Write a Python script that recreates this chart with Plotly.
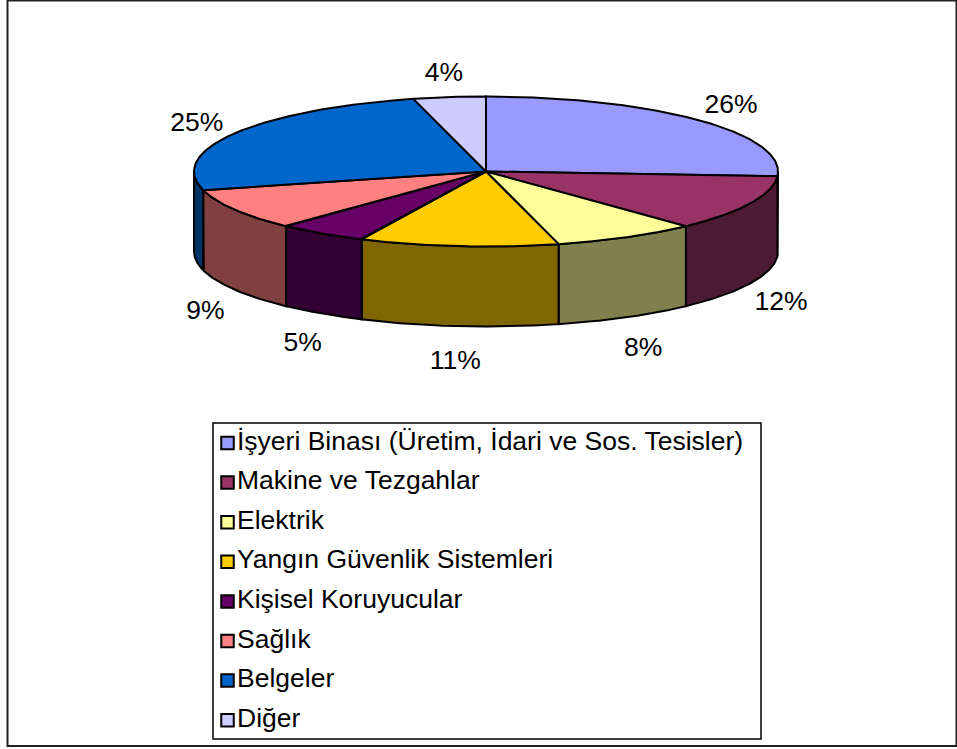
import numpy as np
import plotly.graph_objects as go

# slice data, clockwise from 12 o'clock
categories = [
    "İşyeri Binası (Üretim, İdari ve Sos. Tesisler)",
    "Makine ve Tezgahlar",
    "Elektrik",
    "Yangın Güvenlik Sistemleri",
    "Kişisel Koruyucular",
    "Sağlık",
    "Belgeler",
    "Diğer",
]
shares = [26, 12, 8, 11, 5, 9, 25, 4]

top_colors = ["#9999FF", "#993366", "#FFFF99", "#FFCC00", "#660066", "#FF8080", "#0066CC", "#CCCCFF"]
side_colors = ["#4D4D80", "#4D1A33", "#80804D", "#806600", "#330033", "#804040", "#003366", "#666680"]

W, H = 957, 749
FONT = "Liberation Sans, Arial, sans-serif"

# geometry of the tilted pie (pixels, y pointing down)
cx, cy = 486, 171.5
rx, ry = 292, 75
depth = 80


def ellipse(th_deg, ax=rx, ay=ry):
    t = np.radians(th_deg)
    return cx + ax * np.cos(t), cy - ay * np.sin(t)


fig = go.Figure()

cum = np.concatenate([[0], np.cumsum(shares)]) / sum(shares)
starts = 90 - 360 * cum[:-1]
ends = 90 - 360 * cum[1:]

# outer walls (only the front half is visible)
for i in range(len(shares)):
    a = min(starts[i], 0)
    b = max(ends[i], -180)
    if a <= b:
        continue
    th = np.linspace(a, b, 80)
    x, y = ellipse(th)
    xs = np.concatenate([x, x[::-1], x[:1]])
    ys = np.concatenate([y, y[::-1] + depth, y[:1]])
    fig.add_trace(go.Scatter(x=xs, y=ys, mode="lines", fill="toself",
                             fillcolor=side_colors[i],
                             line=dict(color="black", width=2),
                             hoverinfo="skip", showlegend=False))

# top faces
for i in range(len(shares)):
    th = np.linspace(starts[i], ends[i], 150)
    x, y = ellipse(th)
    xs = np.concatenate([[cx], x, [cx]])
    ys = np.concatenate([[cy], y, [cy]])
    fig.add_trace(go.Scatter(x=xs, y=ys, mode="lines", fill="toself",
                             fillcolor=top_colors[i],
                             line=dict(color="black", width=2),
                             hoverinfo="skip", showlegend=False))

# percentage labels outside the pie (front ones sit below the wall)
mids = (starts + ends) / 2
front = np.sin(np.radians(mids)) < 0
t = np.radians(mids)
lx = cx + np.where(front, rx + 34, rx + 44) * np.cos(t)
ly = cy - (ry + 28) * np.sin(t) + 5 + np.where(front, depth + 3, 0)
fig.add_trace(go.Scatter(x=lx, y=ly, mode="text",
                         text=[f"{v}%" for v in shares],
                         textfont=dict(family=FONT, size=26.5, color="black"),
                         hoverinfo="skip", showlegend=False))

# legend drawn by hand, Excel style
leg_x0, leg_y0, leg_x1, leg_y1 = 213, 423, 761, 739
row0, step = 443, 39.6
rows = [row0 + step * i for i in range(len(categories))]
fig.add_trace(go.Scatter(x=[227.5] * len(categories), y=rows, mode="markers",
                         marker=dict(symbol="square", size=12.5, color=top_colors,
                                     line=dict(color="black", width=2)),
                         hoverinfo="skip", showlegend=False))
fig.add_trace(go.Scatter(x=[237] * len(categories), y=rows, mode="text",
                         text=categories, textposition="middle right",
                         textfont=dict(family=FONT, size=26.5, color="black"),
                         hoverinfo="skip", showlegend=False))

fig.add_shape(type="rect", xref="x", yref="y", x0=leg_x0, y0=leg_y0, x1=leg_x1, y1=leg_y1,
              line=dict(color="black", width=1.5), layer="below")
fig.add_shape(type="rect", xref="x", yref="y", x0=7.5, y0=0.5, x1=956.5, y1=746,
              line=dict(color="#222222", width=2), layer="below")

fig.update_xaxes(range=[0, W], visible=False, fixedrange=True)
fig.update_yaxes(range=[H, 0], visible=False, fixedrange=True)
fig.update_layout(width=W, height=H, autosize=False,
                  margin=dict(l=0, r=0, t=0, b=0),
                  plot_bgcolor="white", paper_bgcolor="white",
                  font=dict(family=FONT))

# drop the browser's default body margin so the page starts at (0, 0)
fig.write_html("out.html", post_script="document.body.style.margin='0';",
               config={"displayModeBar": False})
